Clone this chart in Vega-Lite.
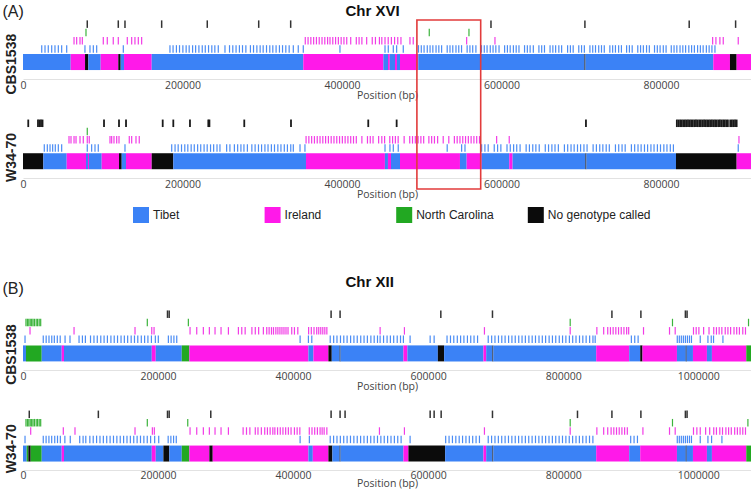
{
"$schema":"https://vega.github.io/schema/vega-lite/v6.json",
"padding":{"left":2,"top":0,"right":0,"bottom":0},
"background":"white",
"config":{"view":{"stroke":null},"font":"Liberation Sans","tick":{"opacity":1}},
"bounds":"flush",
"spacing":121,
"resolve":{"scale":{"color":"independent"},"legend":{"color":"independent"}},
"datasets":{
"xvi_blocks":[
{"sample":"CBS1538","ancestry":"Tibet","start":0,"end":59800},
{"sample":"CBS1538","ancestry":"Ireland","start":59800,"end":77800},
{"sample":"CBS1538","ancestry":"No genotype called","start":77800,"end":81900},
{"sample":"CBS1538","ancestry":"Tibet","start":81900,"end":97400},
{"sample":"CBS1538","ancestry":"Ireland","start":97400,"end":119500},
{"sample":"CBS1538","ancestry":"No genotype called","start":119500,"end":122500},
{"sample":"CBS1538","ancestry":"Tibet","start":122500,"end":126700},
{"sample":"CBS1538","ancestry":"Ireland","start":126700,"end":161400},
{"sample":"CBS1538","ancestry":"Tibet","start":161400,"end":351500},
{"sample":"CBS1538","ancestry":"Ireland","start":351500,"end":451900},
{"sample":"CBS1538","ancestry":"Tibet","start":451900,"end":457800},
{"sample":"CBS1538","ancestry":"Ireland","start":457800,"end":460000},
{"sample":"CBS1538","ancestry":"Tibet","start":460000,"end":466500},
{"sample":"CBS1538","ancestry":"Ireland","start":466500,"end":469000},
{"sample":"CBS1538","ancestry":"Tibet","start":469000,"end":472800},
{"sample":"CBS1538","ancestry":"Ireland","start":472800,"end":495700},
{"sample":"CBS1538","ancestry":"Tibet","start":495700,"end":704200},
{"sample":"CBS1538","ancestry":"No genotype called","start":704200,"end":705400},
{"sample":"CBS1538","ancestry":"Tibet","start":705400,"end":865700},
{"sample":"CBS1538","ancestry":"Ireland","start":865700,"end":886600},
{"sample":"CBS1538","ancestry":"No genotype called","start":886600,"end":895000},
{"sample":"CBS1538","ancestry":"Ireland","start":895000,"end":913000},
{"sample":"W34-70","ancestry":"No genotype called","start":0,"end":25500},
{"sample":"W34-70","ancestry":"Tibet","start":25500,"end":54800},
{"sample":"W34-70","ancestry":"Ireland","start":54800,"end":79000},
{"sample":"W34-70","ancestry":"Tibet","start":79000,"end":81500},
{"sample":"W34-70","ancestry":"Ireland","start":81500,"end":82800},
{"sample":"W34-70","ancestry":"Tibet","start":82800,"end":98700},
{"sample":"W34-70","ancestry":"Ireland","start":98700,"end":120400},
{"sample":"W34-70","ancestry":"No genotype called","start":120400,"end":123800},
{"sample":"W34-70","ancestry":"Tibet","start":123800,"end":129200},
{"sample":"W34-70","ancestry":"Ireland","start":129200,"end":161400},
{"sample":"W34-70","ancestry":"No genotype called","start":161400,"end":188500},
{"sample":"W34-70","ancestry":"Tibet","start":188500,"end":354900},
{"sample":"W34-70","ancestry":"Ireland","start":354900,"end":453900},
{"sample":"W34-70","ancestry":"Tibet","start":453900,"end":457700},
{"sample":"W34-70","ancestry":"Ireland","start":457700,"end":461500},
{"sample":"W34-70","ancestry":"Tibet","start":461500,"end":472800},
{"sample":"W34-70","ancestry":"Ireland","start":472800,"end":548000},
{"sample":"W34-70","ancestry":"Tibet","start":548000,"end":556400},
{"sample":"W34-70","ancestry":"Ireland","start":556400,"end":575200},
{"sample":"W34-70","ancestry":"Tibet","start":575200,"end":609800},
{"sample":"W34-70","ancestry":"Ireland","start":609800,"end":614000},
{"sample":"W34-70","ancestry":"Tibet","start":614000,"end":705400},
{"sample":"W34-70","ancestry":"No genotype called","start":705400,"end":706600},
{"sample":"W34-70","ancestry":"Tibet","start":706600,"end":818900},
{"sample":"W34-70","ancestry":"No genotype called","start":818900,"end":895000},
{"sample":"W34-70","ancestry":"Ireland","start":895000,"end":913000}
],
"xii_blocks":[
{"sample":"CBS1538","ancestry":"Tibet","start":0,"end":4400},
{"sample":"CBS1538","ancestry":"North Carolina","start":4400,"end":27700},
{"sample":"CBS1538","ancestry":"Tibet","start":27700,"end":57300},
{"sample":"CBS1538","ancestry":"Ireland","start":57300,"end":60700},
{"sample":"CBS1538","ancestry":"Tibet","start":60700,"end":190700},
{"sample":"CBS1538","ancestry":"Ireland","start":190700,"end":196600},
{"sample":"CBS1538","ancestry":"Tibet","start":196600,"end":235100},
{"sample":"CBS1538","ancestry":"North Carolina","start":235100,"end":246400},
{"sample":"CBS1538","ancestry":"Ireland","start":246400,"end":422700},
{"sample":"CBS1538","ancestry":"Tibet","start":422700,"end":430100},
{"sample":"CBS1538","ancestry":"Ireland","start":430100,"end":452300},
{"sample":"CBS1538","ancestry":"No genotype called","start":452300,"end":457300},
{"sample":"CBS1538","ancestry":"Tibet","start":457300,"end":469000},
{"sample":"CBS1538","ancestry":"No genotype called","start":469000,"end":470200},
{"sample":"CBS1538","ancestry":"Tibet","start":470200,"end":563400},
{"sample":"CBS1538","ancestry":"Ireland","start":563400,"end":569300},
{"sample":"CBS1538","ancestry":"Tibet","start":569300,"end":614400},
{"sample":"CBS1538","ancestry":"No genotype called","start":614400,"end":623700},
{"sample":"CBS1538","ancestry":"Tibet","start":623700,"end":681900},
{"sample":"CBS1538","ancestry":"Ireland","start":681900,"end":686000},
{"sample":"CBS1538","ancestry":"Tibet","start":686000,"end":695300},
{"sample":"CBS1538","ancestry":"No genotype called","start":695300,"end":696500},
{"sample":"CBS1538","ancestry":"Tibet","start":696500,"end":848900},
{"sample":"CBS1538","ancestry":"Ireland","start":848900,"end":897800},
{"sample":"CBS1538","ancestry":"Tibet","start":897800,"end":914100},
{"sample":"CBS1538","ancestry":"No genotype called","start":914100,"end":917500},
{"sample":"CBS1538","ancestry":"Ireland","start":917500,"end":968500},
{"sample":"CBS1538","ancestry":"Tibet","start":968500,"end":981600},
{"sample":"CBS1538","ancestry":"No genotype called","start":981600,"end":982800},
{"sample":"CBS1538","ancestry":"Tibet","start":982800,"end":992200},
{"sample":"CBS1538","ancestry":"Ireland","start":992200,"end":1012900},
{"sample":"CBS1538","ancestry":"Tibet","start":1012900,"end":1020300},
{"sample":"CBS1538","ancestry":"Ireland","start":1020300,"end":1071200},
{"sample":"CBS1538","ancestry":"North Carolina","start":1071200,"end":1078177},
{"sample":"W34-70","ancestry":"Tibet","start":0,"end":5400},
{"sample":"W34-70","ancestry":"North Carolina","start":5400,"end":7900},
{"sample":"W34-70","ancestry":"No genotype called","start":7900,"end":11400},
{"sample":"W34-70","ancestry":"North Carolina","start":11400,"end":27700},
{"sample":"W34-70","ancestry":"Tibet","start":27700,"end":57300},
{"sample":"W34-70","ancestry":"Ireland","start":57300,"end":60700},
{"sample":"W34-70","ancestry":"Tibet","start":60700,"end":190700},
{"sample":"W34-70","ancestry":"Ireland","start":190700,"end":196600},
{"sample":"W34-70","ancestry":"Tibet","start":196600,"end":207900},
{"sample":"W34-70","ancestry":"No genotype called","start":207900,"end":216700},
{"sample":"W34-70","ancestry":"Tibet","start":216700,"end":235100},
{"sample":"W34-70","ancestry":"North Carolina","start":235100,"end":246400},
{"sample":"W34-70","ancestry":"Ireland","start":246400,"end":276000},
{"sample":"W34-70","ancestry":"No genotype called","start":276000,"end":281000},
{"sample":"W34-70","ancestry":"Ireland","start":281000,"end":422700},
{"sample":"W34-70","ancestry":"Tibet","start":422700,"end":429200},
{"sample":"W34-70","ancestry":"Ireland","start":429200,"end":452300},
{"sample":"W34-70","ancestry":"No genotype called","start":452300,"end":458200},
{"sample":"W34-70","ancestry":"Tibet","start":458200,"end":469000},
{"sample":"W34-70","ancestry":"No genotype called","start":469000,"end":470200},
{"sample":"W34-70","ancestry":"Tibet","start":470200,"end":563400},
{"sample":"W34-70","ancestry":"Ireland","start":563400,"end":570800},
{"sample":"W34-70","ancestry":"No genotype called","start":570800,"end":625200},
{"sample":"W34-70","ancestry":"Tibet","start":625200,"end":681900},
{"sample":"W34-70","ancestry":"Ireland","start":681900,"end":686000},
{"sample":"W34-70","ancestry":"Tibet","start":686000,"end":695300},
{"sample":"W34-70","ancestry":"No genotype called","start":695300,"end":696500},
{"sample":"W34-70","ancestry":"Tibet","start":696500,"end":848900},
{"sample":"W34-70","ancestry":"Ireland","start":848900,"end":897800},
{"sample":"W34-70","ancestry":"Tibet","start":897800,"end":914100},
{"sample":"W34-70","ancestry":"Ireland","start":914100,"end":968500},
{"sample":"W34-70","ancestry":"Tibet","start":968500,"end":981600},
{"sample":"W34-70","ancestry":"No genotype called","start":981600,"end":982800},
{"sample":"W34-70","ancestry":"Tibet","start":982800,"end":992200},
{"sample":"W34-70","ancestry":"Ireland","start":992200,"end":1012900},
{"sample":"W34-70","ancestry":"Tibet","start":1012900,"end":1020300},
{"sample":"W34-70","ancestry":"Ireland","start":1020300,"end":1071200},
{"sample":"W34-70","ancestry":"North Carolina","start":1071200,"end":1078177}
],
"xvi_cbs_none":[{"pos":80600},{"pos":119500},{"pos":127900},{"pos":173900},{"pos":231100},{"pos":295600},{"pos":335700},{"pos":586900},{"pos":704700},{"pos":835500},{"pos":893700}],
"xvi_cbs_nc":[{"pos":79000},{"pos":509500},{"pos":559300}],
"xvi_cbs_ire":[{"pos":64000},{"pos":67300},{"pos":71500},{"pos":74400},{"pos":100700},{"pos":105700},{"pos":113200},{"pos":119500},{"pos":130800},{"pos":136300},{"pos":140400},{"pos":144600},{"pos":148800},{"pos":354000},{"pos":357500},{"pos":361000},{"pos":364500},{"pos":368000},{"pos":371500},{"pos":375000},{"pos":378500},{"pos":382000},{"pos":385000},{"pos":388500},{"pos":392000},{"pos":395500},{"pos":399000},{"pos":402500},{"pos":406000},{"pos":411000},{"pos":418000},{"pos":421500},{"pos":425000},{"pos":431000},{"pos":438000},{"pos":442000},{"pos":447000},{"pos":450000},{"pos":454000},{"pos":458000},{"pos":462000},{"pos":466000},{"pos":470000},{"pos":474000},{"pos":485300},{"pos":489400},{"pos":556400},{"pos":591900},{"pos":864900},{"pos":869000},{"pos":874000},{"pos":878200},{"pos":897000}],
"xvi_cbs_tib":[{"pos":23500},{"pos":27600},{"pos":31700},{"pos":36000},{"pos":40100},{"pos":44300},{"pos":48500},{"pos":54800},{"pos":77700},{"pos":84000},{"pos":88200},{"pos":92400},{"pos":125800},{"pos":184300},{"pos":188200},{"pos":192400},{"pos":196300},{"pos":200500},{"pos":204600},{"pos":208400},{"pos":212700},{"pos":216500},{"pos":220600},{"pos":224800},{"pos":228600},{"pos":232700},{"pos":236800},{"pos":240600},{"pos":244900},{"pos":253300},{"pos":259000},{"pos":263100},{"pos":267200},{"pos":271400},{"pos":275300},{"pos":279500},{"pos":285200},{"pos":289100},{"pos":293300},{"pos":297400},{"pos":301200},{"pos":305400},{"pos":309500},{"pos":313300},{"pos":317400},{"pos":321600},{"pos":325500},{"pos":329600},{"pos":333800},{"pos":339000},{"pos":345200},{"pos":351500},{"pos":397500},{"pos":454000},{"pos":458100},{"pos":464400},{"pos":468600},{"pos":476900},{"pos":496000},{"pos":499500},{"pos":503000},{"pos":507000},{"pos":510500},{"pos":514000},{"pos":518000},{"pos":521500},{"pos":525000},{"pos":532000},{"pos":535500},{"pos":539000},{"pos":543000},{"pos":546500},{"pos":550000},{"pos":557000},{"pos":560500},{"pos":564000},{"pos":568000},{"pos":575000},{"pos":578500},{"pos":582000},{"pos":586000},{"pos":589500},{"pos":593000},{"pos":597000},{"pos":604000},{"pos":607500},{"pos":611000},{"pos":615000},{"pos":618500},{"pos":622000},{"pos":629000},{"pos":632500},{"pos":636000},{"pos":640000},{"pos":647000},{"pos":650500},{"pos":654000},{"pos":661000},{"pos":664500},{"pos":668000},{"pos":672000},{"pos":675500},{"pos":683000},{"pos":686500},{"pos":690000},{"pos":697000},{"pos":700500},{"pos":704000},{"pos":711000},{"pos":714500},{"pos":718000},{"pos":722000},{"pos":725500},{"pos":729000},{"pos":736000},{"pos":739500},{"pos":743000},{"pos":747000},{"pos":750500},{"pos":757000},{"pos":760500},{"pos":764000},{"pos":771000},{"pos":774500},{"pos":778000},{"pos":782000},{"pos":785500},{"pos":792000},{"pos":795500},{"pos":799000},{"pos":803000},{"pos":806500},{"pos":813000},{"pos":816500},{"pos":820000},{"pos":824000},{"pos":827500},{"pos":831000},{"pos":835000},{"pos":838500},{"pos":842000},{"pos":846000},{"pos":849500},{"pos":853000},{"pos":857000},{"pos":860500},{"pos":864000},{"pos":867800}],
"xvi_w_none":[{"pos":6600},{"pos":18800},{"pos":20700},{"pos":22600},{"pos":24500},{"pos":101600},{"pos":120400},{"pos":129200},{"pos":175200},{"pos":188500},{"pos":209400},{"pos":232400},{"pos":233800},{"pos":277500},{"pos":336100},{"pos":433000},{"pos":468600},{"pos":706000},{"pos":820000},{"pos":822000},{"pos":824100},{"pos":826000},{"pos":828000},{"pos":830100},{"pos":832000},{"pos":834000},{"pos":836100},{"pos":838000},{"pos":840000},{"pos":842100},{"pos":844000},{"pos":846000},{"pos":848100},{"pos":850000},{"pos":852000},{"pos":854100},{"pos":856000},{"pos":858000},{"pos":860100},{"pos":862000},{"pos":864000},{"pos":866100},{"pos":868000},{"pos":870000},{"pos":872100},{"pos":874000},{"pos":876000},{"pos":878100},{"pos":880000},{"pos":882000},{"pos":884000},{"pos":887000},{"pos":889000},{"pos":891000},{"pos":893000},{"pos":895000}],
"xvi_w_nc":[{"pos":80600}],
"xvi_w_ire":[{"pos":57700},{"pos":60200},{"pos":64000},{"pos":66500},{"pos":71500},{"pos":75600},{"pos":80600},{"pos":83100},{"pos":109100},{"pos":111200},{"pos":114100},{"pos":117500},{"pos":120400},{"pos":133300},{"pos":136300},{"pos":141700},{"pos":145800},{"pos":355000},{"pos":358500},{"pos":362000},{"pos":365500},{"pos":369000},{"pos":372500},{"pos":376000},{"pos":379500},{"pos":383000},{"pos":386500},{"pos":390000},{"pos":393500},{"pos":397000},{"pos":400500},{"pos":404000},{"pos":407500},{"pos":411000},{"pos":414500},{"pos":418000},{"pos":425000},{"pos":432000},{"pos":435500},{"pos":439000},{"pos":446000},{"pos":450000},{"pos":453500},{"pos":460000},{"pos":463500},{"pos":467000},{"pos":470500},{"pos":478000},{"pos":485000},{"pos":488500},{"pos":492000},{"pos":495500},{"pos":499000},{"pos":502500},{"pos":509000},{"pos":512500},{"pos":516000},{"pos":520000},{"pos":527000},{"pos":534000},{"pos":541000},{"pos":544500},{"pos":548000},{"pos":551500},{"pos":555000},{"pos":558500},{"pos":562000},{"pos":565500},{"pos":569000},{"pos":572500},{"pos":594000},{"pos":609800},{"pos":897900}],
"xvi_w_tib":[{"pos":26700},{"pos":30500},{"pos":33900},{"pos":37200},{"pos":40500},{"pos":44300},{"pos":48500},{"pos":80600},{"pos":86100},{"pos":90300},{"pos":94400},{"pos":127900},{"pos":186500},{"pos":190700},{"pos":194600},{"pos":198800},{"pos":202900},{"pos":206700},{"pos":210900},{"pos":214800},{"pos":219000},{"pos":222900},{"pos":227100},{"pos":231000},{"pos":235200},{"pos":239100},{"pos":243300},{"pos":247000},{"pos":255400},{"pos":259500},{"pos":265100},{"pos":269200},{"pos":273300},{"pos":277100},{"pos":281400},{"pos":287000},{"pos":291100},{"pos":295300},{"pos":299200},{"pos":303400},{"pos":307300},{"pos":311500},{"pos":315400},{"pos":319600},{"pos":323500},{"pos":327700},{"pos":331600},{"pos":335800},{"pos":339000},{"pos":347400},{"pos":353600},{"pos":454000},{"pos":460200},{"pos":464400},{"pos":470600},{"pos":532000},{"pos":550100},{"pos":554300},{"pos":575200},{"pos":579300},{"pos":583400},{"pos":591000},{"pos":595200},{"pos":599300},{"pos":607000},{"pos":611100},{"pos":615300},{"pos":619200},{"pos":623400},{"pos":631000},{"pos":635100},{"pos":639300},{"pos":643200},{"pos":647400},{"pos":655000},{"pos":659100},{"pos":663300},{"pos":667200},{"pos":671400},{"pos":679000},{"pos":683100},{"pos":687300},{"pos":691200},{"pos":695400},{"pos":699300},{"pos":703500},{"pos":707400},{"pos":715000},{"pos":719100},{"pos":723300},{"pos":727200},{"pos":731400},{"pos":735300},{"pos":743000},{"pos":747100},{"pos":751300},{"pos":755200},{"pos":763000},{"pos":767100},{"pos":771300},{"pos":775200},{"pos":779400},{"pos":783300},{"pos":787500},{"pos":791400},{"pos":795600},{"pos":799500},{"pos":803700},{"pos":807600},{"pos":811800},{"pos":815700},{"pos":897000}],
"xii_cbs_none":[{"pos":214000},{"pos":216500},{"pos":456300},{"pos":469600},{"pos":618800},{"pos":695300},{"pos":872200},{"pos":915100},{"pos":981000},{"pos":983500}],
"xii_cbs_nc":[{"pos":4400},{"pos":6500},{"pos":8600},{"pos":10700},{"pos":12800},{"pos":14800},{"pos":16900},{"pos":19500},{"pos":21600},{"pos":24000},{"pos":26200},{"pos":184100},{"pos":244900},{"pos":810400},{"pos":961900},{"pos":1074500}],
"xii_cbs_ire":[{"pos":10400},{"pos":75600},{"pos":165900},{"pos":190700},{"pos":194100},{"pos":247400},{"pos":257300},{"pos":267100},{"pos":276000},{"pos":284400},{"pos":293300},{"pos":304200},{"pos":319000},{"pos":324000},{"pos":329000},{"pos":339000},{"pos":344000},{"pos":349000},{"pos":356000},{"pos":361000},{"pos":364500},{"pos":368000},{"pos":371000},{"pos":374500},{"pos":377500},{"pos":380500},{"pos":383500},{"pos":386500},{"pos":389500},{"pos":392500},{"pos":398000},{"pos":402000},{"pos":407000},{"pos":423000},{"pos":427000},{"pos":431000},{"pos":435000},{"pos":438000},{"pos":441000},{"pos":444000},{"pos":447000},{"pos":450000},{"pos":528900},{"pos":564900},{"pos":683400},{"pos":810400},{"pos":849900},{"pos":860000},{"pos":866000},{"pos":870000},{"pos":874000},{"pos":878000},{"pos":882000},{"pos":886000},{"pos":890000},{"pos":894000},{"pos":897000},{"pos":919000},{"pos":957500},{"pos":965900},{"pos":993000},{"pos":997000},{"pos":1001000},{"pos":1008000},{"pos":1016000},{"pos":1023000},{"pos":1027000},{"pos":1031000},{"pos":1035000},{"pos":1040000},{"pos":1044000},{"pos":1048000},{"pos":1053000},{"pos":1057000},{"pos":1061000},{"pos":1066000},{"pos":1070000}],
"xii_cbs_tib":[{"pos":3000},{"pos":30000},{"pos":34300},{"pos":38500},{"pos":42600},{"pos":46400},{"pos":50800},{"pos":55100},{"pos":62300},{"pos":69600},{"pos":83000},{"pos":88000},{"pos":92400},{"pos":100000},{"pos":105100},{"pos":110000},{"pos":115200},{"pos":120100},{"pos":125000},{"pos":130200},{"pos":135100},{"pos":140000},{"pos":145200},{"pos":150100},{"pos":155000},{"pos":160200},{"pos":165100},{"pos":170000},{"pos":175200},{"pos":180100},{"pos":185000},{"pos":190200},{"pos":196000},{"pos":200400},{"pos":215300},{"pos":219400},{"pos":223500},{"pos":227700},{"pos":410400},{"pos":422700},{"pos":427700},{"pos":455000},{"pos":460100},{"pos":465000},{"pos":470200},{"pos":475100},{"pos":480000},{"pos":485200},{"pos":490100},{"pos":495000},{"pos":500200},{"pos":505100},{"pos":510000},{"pos":515200},{"pos":520100},{"pos":525000},{"pos":528900},{"pos":534000},{"pos":539200},{"pos":544100},{"pos":549000},{"pos":554200},{"pos":559100},{"pos":563400},{"pos":573300},{"pos":603000},{"pos":608900},{"pos":628000},{"pos":633100},{"pos":638000},{"pos":643200},{"pos":648100},{"pos":653000},{"pos":658200},{"pos":663100},{"pos":668000},{"pos":673200},{"pos":689000},{"pos":694100},{"pos":699000},{"pos":704200},{"pos":709100},{"pos":714000},{"pos":719200},{"pos":724100},{"pos":729000},{"pos":734200},{"pos":739100},{"pos":744000},{"pos":749200},{"pos":754100},{"pos":759000},{"pos":764200},{"pos":769100},{"pos":774000},{"pos":779200},{"pos":784100},{"pos":789000},{"pos":794200},{"pos":799100},{"pos":804000},{"pos":809200},{"pos":814100},{"pos":819000},{"pos":824200},{"pos":829100},{"pos":834000},{"pos":839200},{"pos":844100},{"pos":847400},{"pos":901000},{"pos":906000},{"pos":911000},{"pos":969000},{"pos":972000},{"pos":975000},{"pos":978000},{"pos":981000},{"pos":984000},{"pos":987000},{"pos":990000},{"pos":1003000},{"pos":1014400},{"pos":1019300},{"pos":1022700},{"pos":1036600}],
"xii_w_none":[{"pos":9300},{"pos":111600},{"pos":214000},{"pos":216500},{"pos":278100},{"pos":456300},{"pos":469600},{"pos":477000},{"pos":603000},{"pos":608900},{"pos":619300},{"pos":695300},{"pos":821200},{"pos":872200},{"pos":915100},{"pos":981000},{"pos":983500}],
"xii_w_nc":[{"pos":4400},{"pos":6500},{"pos":8600},{"pos":10700},{"pos":12800},{"pos":14800},{"pos":16900},{"pos":19500},{"pos":21600},{"pos":24000},{"pos":26200},{"pos":184100},{"pos":244000},{"pos":810400},{"pos":961900},{"pos":1073600}],
"xii_w_ire":[{"pos":11400},{"pos":59700},{"pos":77000},{"pos":165900},{"pos":191600},{"pos":194500},{"pos":247400},{"pos":257300},{"pos":267100},{"pos":276000},{"pos":284400},{"pos":293300},{"pos":304200},{"pos":326000},{"pos":331000},{"pos":336000},{"pos":344000},{"pos":348000},{"pos":353000},{"pos":358000},{"pos":362000},{"pos":366000},{"pos":370000},{"pos":373000},{"pos":377000},{"pos":381000},{"pos":385000},{"pos":389000},{"pos":393000},{"pos":397000},{"pos":402000},{"pos":406000},{"pos":410000},{"pos":424000},{"pos":428000},{"pos":432000},{"pos":436000},{"pos":440000},{"pos":443000},{"pos":446000},{"pos":450000},{"pos":527900},{"pos":564900},{"pos":683400},{"pos":810400},{"pos":849900},{"pos":860000},{"pos":866000},{"pos":871000},{"pos":875000},{"pos":879000},{"pos":883000},{"pos":887000},{"pos":891000},{"pos":895000},{"pos":918100},{"pos":957500},{"pos":965900},{"pos":993000},{"pos":998000},{"pos":1003000},{"pos":1011000},{"pos":1017000},{"pos":1023000},{"pos":1027000},{"pos":1032000},{"pos":1036000},{"pos":1041000},{"pos":1045000},{"pos":1049000},{"pos":1054000},{"pos":1058000},{"pos":1062000},{"pos":1066000},{"pos":1070000}],
"xii_w_tib":[{"pos":3000},{"pos":30000},{"pos":34200},{"pos":38400},{"pos":42500},{"pos":47000},{"pos":51100},{"pos":55300},{"pos":62000},{"pos":70000},{"pos":84000},{"pos":89000},{"pos":93000},{"pos":99000},{"pos":104000},{"pos":109000},{"pos":114000},{"pos":119000},{"pos":124000},{"pos":129000},{"pos":134000},{"pos":139000},{"pos":144000},{"pos":149000},{"pos":154000},{"pos":159000},{"pos":164000},{"pos":169000},{"pos":174000},{"pos":179000},{"pos":184000},{"pos":189000},{"pos":195000},{"pos":201000},{"pos":215000},{"pos":219000},{"pos":223000},{"pos":227000},{"pos":410400},{"pos":424100},{"pos":455000},{"pos":460000},{"pos":465000},{"pos":470000},{"pos":475000},{"pos":480000},{"pos":485000},{"pos":490000},{"pos":495000},{"pos":500000},{"pos":505000},{"pos":510000},{"pos":515000},{"pos":520000},{"pos":525000},{"pos":530000},{"pos":535000},{"pos":540000},{"pos":545000},{"pos":550000},{"pos":555000},{"pos":560000},{"pos":573300},{"pos":626000},{"pos":631000},{"pos":636000},{"pos":641000},{"pos":646000},{"pos":651000},{"pos":656000},{"pos":661000},{"pos":666000},{"pos":671000},{"pos":676000},{"pos":689000},{"pos":694000},{"pos":699000},{"pos":704000},{"pos":709000},{"pos":714000},{"pos":719000},{"pos":724000},{"pos":729000},{"pos":734000},{"pos":739000},{"pos":744000},{"pos":749000},{"pos":754000},{"pos":759000},{"pos":764000},{"pos":769000},{"pos":774000},{"pos":779000},{"pos":784000},{"pos":789000},{"pos":794000},{"pos":799000},{"pos":804000},{"pos":809000},{"pos":814000},{"pos":819000},{"pos":824000},{"pos":829000},{"pos":834000},{"pos":839000},{"pos":844000},{"pos":900000},{"pos":905000},{"pos":910000},{"pos":969000},{"pos":972000},{"pos":975000},{"pos":978000},{"pos":981000},{"pos":984000},{"pos":987000},{"pos":990000},{"pos":1003000},{"pos":1014400},{"pos":1019800},{"pos":1035100}]
},
"vconcat":[
{
"width":728,"height":169,
"resolve":{"axis":{"x":"independent"}},
"layer":[
{
"data":{"name":"xvi_blocks"},
"mark":{"type":"bar","height":16,"baseline":"top","yOffset":1},
"encoding":{
"x":{"field":"start","type":"quantitative","scale":{"domain":[0,913000],"nice":false,"zero":false},
"axis":{"orient":"bottom","offset":-11,"values":[0,200000,400000,600000,800000],"format":"d","ticks":false,"tickSize":0,"grid":false,"domainColor":"#e2e2e2","domainWidth":1,"labelFont":"Open Sans","labelFontSize":10.5,"labelColor":"#444","labelPadding":1,"labelFlush":false,"labelOverlap":false,"title":"Position (bp)","titleFont":"Open Sans","titleFontSize":10.5,"titleFontWeight":"normal","titleColor":"#444","titlePadding":0}},
"x2":{"field":"end"},
"y":{"field":"sample","type":"nominal","scale":{"domain":["CBS1538 no call","CBS1538 North Carolina","CBS1538 Ireland","CBS1538 Tibet","CBS1538","gap 1","gap 2","gap 3","gap 4","gap 5","gap 6","gap 7","W34-70 no call","W34-70 North Carolina","W34-70 Ireland","W34-70 Tibet","W34-70","gap 8","gap 9","gap 10"],"paddingInner":0,"paddingOuter":0.225,"align":0},
"axis":{"title":"(A)","titleAngle":0,"titleX":-21,"titleY":-3.5,"titleAlign":"left","titleBaseline":"alphabetic","titleFont":"Liberation Sans","titleFontSize":16,"titleFontWeight":"normal","titleColor":"#222","labelExpr":"datum.label == 'CBS1538' || datum.label == 'W34-70' ? datum.label : ''","labelAngle":270,"labelAlign":"right","labelBaseline":"alphabetic","labelPadding":8,"labelOffset":-23.4,"labelFont":"Liberation Sans","labelFontSize":14,"labelFontWeight":"bold","labelColor":"#222","ticks":false,"tickSize":0,"domain":false,"grid":false,"labelOverlap":false,"labelLimit":300}},
"color":{"field":"ancestry","type":"nominal","scale":{"domain":["Tibet","Ireland","North Carolina","No genotype called"],"range":["#3b82f6","#ff19e9","#22a822","#0b0b0b"]},
"legend":{"orient":"none","legendX":110,"legendY":187,"direction":"horizontal","columns":4,"gridAlign":"all","columnPadding":8.6,"title":null,"symbolType":"square","symbolSize":256,"symbolStrokeWidth":0,"symbolOpacity":1,"labelFont":"Liberation Sans","labelFontSize":12,"labelColor":"#222","labelOffset":4,"padding":0,"labelLimit":300}}
}
},
{
"encoding":{"x":{"field":"pos","type":"quantitative","scale":{"domain":[0,913000],"nice":false,"zero":false},
"axis":{"orient":"bottom","offset":-110,"values":[0,200000,400000,600000,800000],"format":"d","ticks":false,"tickSize":0,"grid":false,"domainColor":"#e2e2e2","domainWidth":1,"labelFont":"Open Sans","labelFontSize":10.5,"labelColor":"#444","labelPadding":1,"labelFlush":false,"labelOverlap":false,"title":"Position (bp)","titleFont":"Open Sans","titleFontSize":10.5,"titleFontWeight":"normal","titleColor":"#444","titlePadding":0}}},
"layer":[
{"data":{"name":"xvi_cbs_none"},"mark":{"type":"tick","color":"#333333","thickness":1.5,"size":7.5,"opacity":1},"encoding":{"y":{"datum":"CBS1538 no call","type":"nominal"}}},
{"data":{"name":"xvi_cbs_nc"},"mark":{"type":"tick","color":"#3cb33c","thickness":1.2,"size":7.5,"opacity":1},"encoding":{"y":{"datum":"CBS1538 North Carolina","type":"nominal"}}},
{"data":{"name":"xvi_cbs_ire"},"mark":{"type":"tick","color":"#f23ce6","thickness":1.2,"size":7.5,"opacity":1},"encoding":{"y":{"datum":"CBS1538 Ireland","type":"nominal"}}},
{"data":{"name":"xvi_cbs_tib"},"mark":{"type":"tick","color":"#4a8cf5","thickness":1.2,"size":7.5,"opacity":1},"encoding":{"y":{"datum":"CBS1538 Tibet","type":"nominal"}}},
{"data":{"name":"xvi_w_none"},"mark":{"type":"tick","color":"#1a1a1a","thickness":1.8,"size":7.5,"opacity":1},"encoding":{"y":{"datum":"W34-70 no call","type":"nominal"}}},
{"data":{"name":"xvi_w_nc"},"mark":{"type":"tick","color":"#3cb33c","thickness":1.2,"size":7.5,"opacity":1},"encoding":{"y":{"datum":"W34-70 North Carolina","type":"nominal"}}},
{"data":{"name":"xvi_w_ire"},"mark":{"type":"tick","color":"#f23ce6","thickness":1.2,"size":7.5,"opacity":1},"encoding":{"y":{"datum":"W34-70 Ireland","type":"nominal"}}},
{"data":{"name":"xvi_w_tib"},"mark":{"type":"tick","color":"#4a8cf5","thickness":1.2,"size":7.5,"opacity":1},"encoding":{"y":{"datum":"W34-70 Tibet","type":"nominal"}}}
]
},
{
"data":{"values":[{"start":494000,"end":574000}]},
"mark":{"type":"rect","filled":false,"stroke":"#e23b3b","strokeWidth":1.6},
"encoding":{
"x":{"field":"start","type":"quantitative","scale":{"domain":[0,913000],"nice":false,"zero":false},
"axis":{"orient":"top","labels":false,"ticks":false,"domain":false,"grid":false,"title":"Chr XVI","titleFont":"Liberation Sans","titleFontSize":15,"titleFontWeight":"bold","titleColor":"#111","titleX":322,"titleY":-4.3,"titleAlign":"left","titleBaseline":"alphabetic"}},
"x2":{"field":"end"}
}
}
]
},
{
"width":728,"height":152,
"resolve":{"axis":{"x":"independent"}},
"layer":[
{
"data":{"name":"xii_blocks"},
"mark":{"type":"bar","height":16,"baseline":"top","yOffset":2},
"encoding":{
"x":{"field":"start","type":"quantitative","scale":{"domain":[0,1078177],"nice":false,"zero":false},
"axis":{"orient":"bottom","offset":8,"values":[0,200000,400000,600000,800000,1000000],"format":"d","ticks":false,"tickSize":0,"grid":false,"domainColor":"#e2e2e2","domainWidth":1,"labelFont":"Open Sans","labelFontSize":10.5,"labelColor":"#444","labelPadding":0,"labelFlush":false,"labelOverlap":false,"title":"Position (bp)","titleFont":"Open Sans","titleFontSize":10.5,"titleFontWeight":"normal","titleColor":"#444","titlePadding":-2}},
"x2":{"field":"end"},
"y":{"field":"sample","type":"nominal","scale":{"domain":["CBS1538 no call","CBS1538 North Carolina","CBS1538 Ireland","CBS1538 Tibet","CBS1538","gap 1","gap 2","gap 3","gap 4","gap 5","gap 6","gap 7","W34-70 no call","W34-70 North Carolina","W34-70 Ireland","W34-70 Tibet","W34-70"],"paddingInner":0,"paddingOuter":0.605,"align":0},
"axis":{"title":"(B)","titleAngle":0,"titleX":-21,"titleY":-16.3,"titleAlign":"left","titleBaseline":"alphabetic","titleFont":"Liberation Sans","titleFontSize":16,"titleFontWeight":"normal","titleColor":"#222","labelExpr":"datum.label == 'CBS1538' || datum.label == 'W34-70' ? datum.label : ''","labelAngle":270,"labelAlign":"right","labelBaseline":"alphabetic","labelPadding":8,"labelOffset":-23.4,"labelFont":"Liberation Sans","labelFontSize":14,"labelFontWeight":"bold","labelColor":"#222","ticks":false,"tickSize":0,"domain":false,"grid":false,"labelOverlap":false,"labelLimit":300}},
"color":{"field":"ancestry","type":"nominal","scale":{"domain":["Tibet","Ireland","North Carolina","No genotype called"],"range":["#3b82f6","#ff19e9","#22a822","#0b0b0b"]},"legend":null}
}
},
{
"encoding":{"x":{"field":"pos","type":"quantitative","scale":{"domain":[0,1078177],"nice":false,"zero":false},
"axis":{"orient":"bottom","offset":-92,"values":[0,200000,400000,600000,800000,1000000],"format":"d","ticks":false,"tickSize":0,"grid":false,"domainColor":"#e2e2e2","domainWidth":1,"labelFont":"Open Sans","labelFontSize":10.5,"labelColor":"#444","labelPadding":1,"labelFlush":false,"labelOverlap":false,"title":"Position (bp)","titleFont":"Open Sans","titleFontSize":10.5,"titleFontWeight":"normal","titleColor":"#444","titlePadding":0}}},
"layer":[
{"data":{"name":"xii_cbs_none"},"mark":{"type":"tick","color":"#333333","thickness":1.5,"size":7.5,"opacity":1},"encoding":{"y":{"datum":"CBS1538 no call","type":"nominal"}}},
{"data":{"name":"xii_cbs_nc"},"mark":{"type":"tick","color":"#3cb33c","thickness":1.2,"size":7.5,"opacity":1},"encoding":{"y":{"datum":"CBS1538 North Carolina","type":"nominal"}}},
{"data":{"name":"xii_cbs_ire"},"mark":{"type":"tick","color":"#f23ce6","thickness":1.2,"size":7.5,"opacity":1},"encoding":{"y":{"datum":"CBS1538 Ireland","type":"nominal"}}},
{"data":{"name":"xii_cbs_tib"},"mark":{"type":"tick","color":"#4a8cf5","thickness":1.2,"size":7.5,"opacity":1},"encoding":{"y":{"datum":"CBS1538 Tibet","type":"nominal"}}},
{"data":{"name":"xii_w_none"},"mark":{"type":"tick","color":"#333333","thickness":1.5,"size":7.5,"opacity":1},"encoding":{"y":{"datum":"W34-70 no call","type":"nominal"}}},
{"data":{"name":"xii_w_nc"},"mark":{"type":"tick","color":"#3cb33c","thickness":1.2,"size":7.5,"opacity":1},"encoding":{"y":{"datum":"W34-70 North Carolina","type":"nominal"}}},
{"data":{"name":"xii_w_ire"},"mark":{"type":"tick","color":"#f23ce6","thickness":1.2,"size":7.5,"opacity":1},"encoding":{"y":{"datum":"W34-70 Ireland","type":"nominal"}}},
{"data":{"name":"xii_w_tib"},"mark":{"type":"tick","color":"#4a8cf5","thickness":1.2,"size":7.5,"opacity":1},"encoding":{"y":{"datum":"W34-70 Tibet","type":"nominal"}}}
]
},
{
"data":{"values":[{"start":0,"end":0}]},
"mark":{"type":"rect","filled":false,"strokeWidth":0,"opacity":0},
"encoding":{
"x":{"field":"start","type":"quantitative","scale":{"domain":[0,1078177],"nice":false,"zero":false},
"axis":{"orient":"top","labels":false,"ticks":false,"domain":false,"grid":false,"title":"Chr XII","titleFont":"Liberation Sans","titleFontSize":15,"titleFontWeight":"bold","titleColor":"#111","titleX":322,"titleY":-23.5,"titleAlign":"left","titleBaseline":"alphabetic"}},
"x2":{"field":"end"}
}
}
]
}
]
}
